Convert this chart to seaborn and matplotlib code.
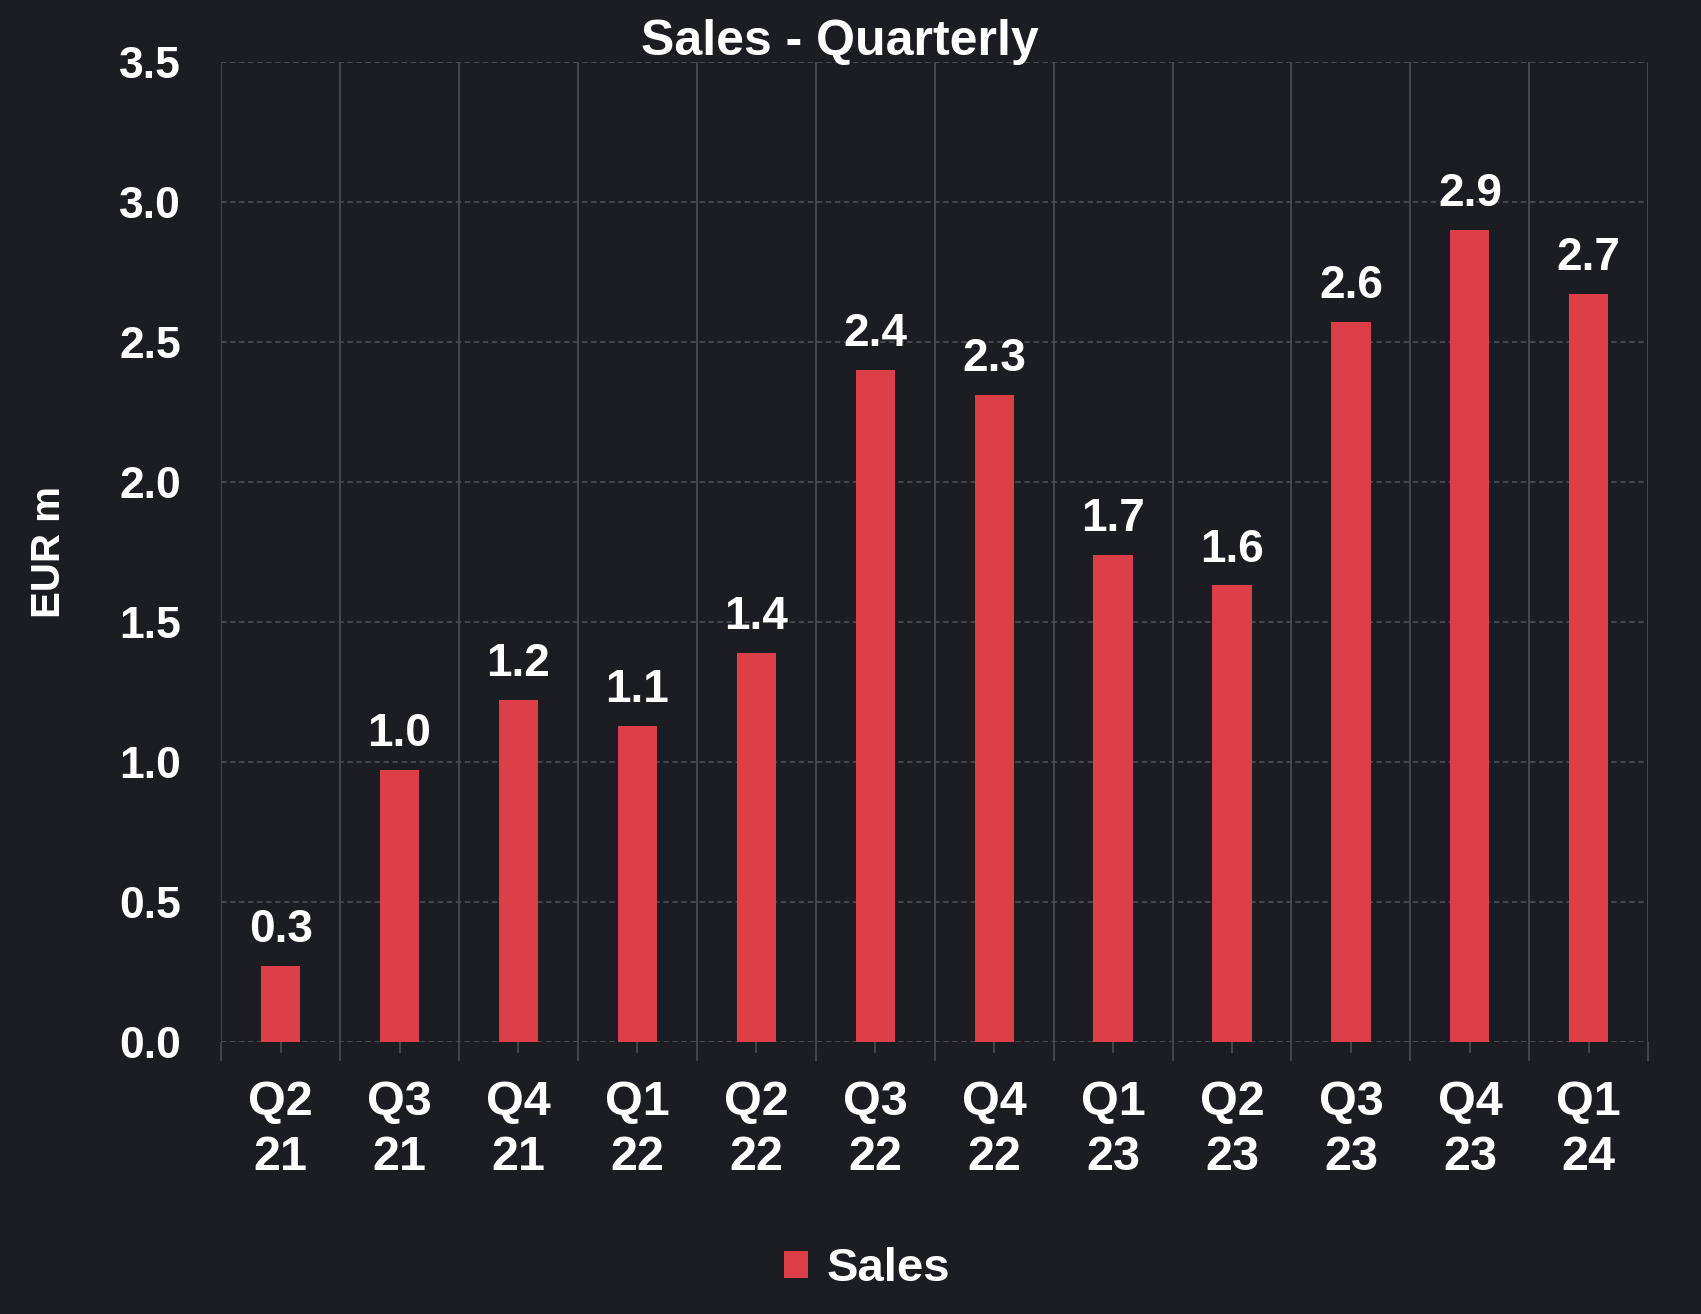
import matplotlib
matplotlib.use("Agg")
import matplotlib.pyplot as plt
import seaborn as sns
import pandas as pd
import numpy as np

quarters = ["Q2\n21", "Q3\n21", "Q4\n21", "Q1\n22", "Q2\n22", "Q3\n22",
            "Q4\n22", "Q1\n23", "Q2\n23", "Q3\n23", "Q4\n23", "Q1\n24"]
sales = [0.27, 0.97, 1.22, 1.13, 1.39, 2.40, 2.31, 1.74, 1.63, 2.57, 2.90, 2.67]
y_ticks = [0.0, 0.5, 1.0, 1.5, 2.0, 2.5, 3.0, 3.5]

BG = "#1c1d22"
BAR = "#dc3f48"
GRID = "#4b4b57"
FG = "white"

sns.set_theme(style="dark")
plt.rcParams["font.family"] = ["Liberation Sans", "DejaVu Sans"]
plt.rcParams["font.weight"] = "bold"

df = pd.DataFrame({"Quarter": quarters, "Sales": sales})

fig = plt.figure(figsize=(17.01, 13.14), dpi=100, facecolor=BG)
ax = fig.add_axes([0.130, 0.207, 0.839, 0.746])
ax.set_facecolor(BG)

sns.barplot(data=df, x="Quarter", y="Sales", color=BAR, width=0.33,
            saturation=1, ax=ax, linewidth=0, edgecolor=BAR, zorder=3)

ax.set_xlim(-0.5, len(quarters) - 0.5)
ax.set_ylim(0, 3.5)
ax.set_yticks(y_ticks)
ax.set_yticklabels([f"{v:.1f}" for v in y_ticks])

for s in ax.spines.values():
    s.set_visible(False)

# grids
ax.yaxis.grid(True, color=GRID, linestyle=(0, (3, 2)), linewidth=1.3, zorder=0)
ax.xaxis.grid(False)
bounds = np.arange(-0.5, len(quarters), 1.0)
ax.set_xticks(bounds, minor=True)
ax.xaxis.grid(True, which="minor", color=GRID, linestyle="-", linewidth=1.3, zorder=0)

ax.tick_params(axis="x", which="major", length=8, width=1.2, color=GRID,
               labelsize=35, labelcolor=FG, pad=19, bottom=True)
ax.tick_params(axis="x", which="minor", length=14, width=1.2, color=GRID, bottom=True)
ax.tick_params(axis="y", length=0, labelsize=32, labelcolor=FG, pad=29)
for t in ax.get_xticklabels():
    t.set_fontweight("bold")
    t.set_linespacing(1.3)
for t in ax.get_yticklabels():
    t.set_fontweight("bold")

ax.set_xlabel("")
ax.set_ylabel("EUR m", color=FG, fontsize=29, fontweight="bold", labelpad=37)

for c in ax.containers:
    ax.bar_label(c, labels=[f"{v:.1f}" for v in sales], padding=10,
                 color=FG, fontsize=33, fontweight="bold")

fig.text(0.494, 0.968, "Sales - Quarterly", ha="center", va="center",
         color=FG, fontsize=36, fontweight="bold")

handle = ax.containers[0][0]
leg = fig.legend(handles=[handle], labels=["Sales"], loc="center",
                 bbox_to_anchor=(0.51, 0.034), frameon=False, fontsize=34,
                 handlelength=0.5, handleheight=0.5, handletextpad=0.4)
for t in leg.get_texts():
    t.set_color(FG)
    t.set_fontweight("bold")

fig.savefig("out.png", dpi=100, facecolor=BG)
